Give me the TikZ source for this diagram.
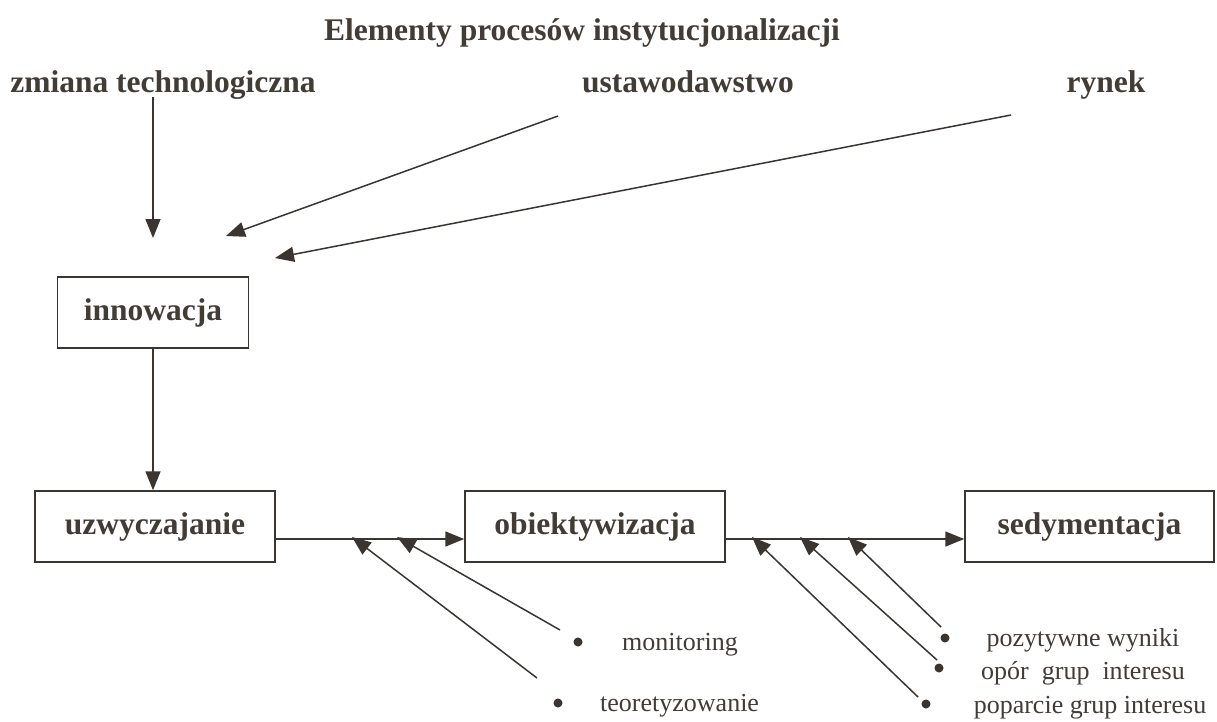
\documentclass[tikz,border=0pt]{standalone}
\usepackage{fontspec}
\setmainfont{Liberation Serif}
\usetikzlibrary{arrows.meta}
\definecolor{ink}{RGB}{66,60,55}
\definecolor{lineink}{RGB}{58,53,48}
\begin{document}
\begin{tikzpicture}[x=1pt,y=-1pt,
  lbl/.style={text=ink,font=\fontsize{31.5}{34}\selectfont\bfseries,inner sep=0pt,anchor=base},
  box/.style={draw=lineink,line width=1.5pt,text=ink,font=\fontsize{31.5}{34}\selectfont\bfseries,minimum height=71pt,inner sep=0pt},
  small/.style={text=ink,font=\fontsize{26}{28}\selectfont,inner sep=0pt,anchor=base},
  arr/.style={draw=lineink,line width=1.5pt,-{Triangle[length=19pt,width=15pt]}},
  dotc/.style={circle,fill=lineink,inner sep=0pt,minimum size=9pt}]
\useasboundingbox (0,0) rectangle (1217,721);
\fill[white] (0,0) rectangle (1217,721);
% title and sources
\node[lbl] (title) at (582,40) {Elementy procesów instytucjonalizacji};
\node[lbl] (zmiana) at (163,92) {zmiana technologiczna};
\node[lbl] (ustaw) at (688,92) {ustawodawstwo};
\node[lbl] (rynek) at (1106,92) {rynek};
% boxes
\node[box,minimum width=191pt] (innow) at (153,312.5) {innowacja};
\node[box,minimum width=240pt] (uzw) at (155,526.5) {uzwyczajanie};
\node[box,minimum width=260pt] (obj) at (595,526.5) {obiektywizacja};
\node[box,minimum width=249pt] (sed) at (1089.5,526.5) {sedymentacja};
% top arrows
\coordinate (s1) at (153,97);  \coordinate (t1) at (153,238);
\coordinate (s2) at (558,116); \coordinate (t2) at (226,236);
\coordinate (s3) at (1011,115);\coordinate (t3) at (275,258);
\draw[arr] (s1) -- (t1);
\draw[arr] (s2) -- (t2);
\draw[arr] (s3) -- (t3);
% vertical flow
\draw[arr] (innow.south) -- (innow.south |- uzw.north);
% horizontal flow
\draw[arr] ([yshift=-12.5pt]uzw.east) -- ([yshift=-12.5pt]obj.west);
\draw[arr] ([yshift=-12.5pt]obj.east) -- ([yshift=-12.5pt]sed.west);
% left influences
\node[dotc] (md) at (578,642) {};
\node[dotc] (td) at (558,703) {};
\node[small,anchor=base west] (mon) at (622,650) {monitoring};
\node[small,anchor=base west] (teo) at (600,711) {teoretyzowanie};
\coordinate (ms) at (560,630); \coordinate (mt) at (397,537);
\coordinate (ts) at (537,678); \coordinate (tt) at (352,537);
\draw[arr] (ms) -- (mt);
\draw[arr] (ts) -- (tt);
% right influences
\node[dotc] (pd) at (945,638) {};
\node[dotc] (od) at (939,668) {};
\node[dotc] (ppd) at (926,704) {};
\node[small] (poz) at (1083,646) {pozytywne wyniki};
\node[small] (opor) at (1083,679) {opór\ \ grup\ \ interesu};
\node[small] (pop) at (1090,713) {poparcie grup interesu};
\coordinate (ps) at (941,627); \coordinate (pt) at (848,537);
\coordinate (os) at (937,660); \coordinate (ot) at (800,537);
\coordinate (pps) at (918,697); \coordinate (ppt) at (752,537);
\draw[arr] (ps) -- (pt);
\draw[arr] (os) -- (ot);
\draw[arr] (pps) -- (ppt);
\end{tikzpicture}
\end{document}
